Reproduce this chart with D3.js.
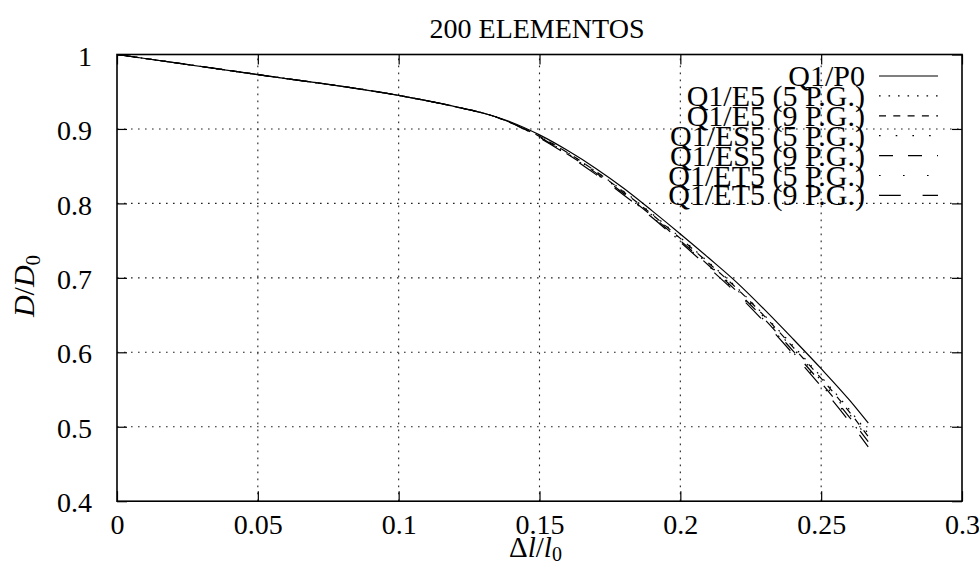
<!DOCTYPE html>
<html>
<head>
<meta charset="utf-8">
<script src="https://cdn.jsdelivr.net/npm/d3@7/dist/d3.min.js"></script>
<style>
  body { margin: 0; background: #fff; }
  text { font-family: "Liberation Serif", "Times New Roman", serif; fill: #000; }
</style>
</head>
<body>
<svg width="979" height="565"></svg>
<script>
const TITLE = "200 ELEMENTOS"

// strain values shared by all curves
const strain = [0, 0.05, 0.1, 0.12, 0.133, 0.14, 0.15, 0.16, 0.17, 0.18, 0.19, 0.2, 0.21, 0.22, 0.23, 0.24, 0.25, 0.26, 0.2667]

const q1P0    = [1.000, 0.973, 0.945, 0.930, 0.918, 0.909, 0.892, 0.871, 0.847, 0.820, 0.790, 0.759, 0.727, 0.694, 0.657, 0.618, 0.578, 0.536, 0.505]
const q1E5_5  = [1.000, 0.973, 0.945, 0.930, 0.918, 0.908, 0.890, 0.868, 0.843, 0.816, 0.786, 0.754, 0.721, 0.687, 0.649, 0.609, 0.567, 0.523, 0.491]
const q1E5_9  = [1.000, 0.973, 0.945, 0.930, 0.918, 0.908, 0.890, 0.868, 0.843, 0.815, 0.785, 0.753, 0.720, 0.686, 0.648, 0.607, 0.565, 0.520, 0.487]
const q1ES5_5 = [1.000, 0.973, 0.945, 0.930, 0.918, 0.908, 0.889, 0.867, 0.842, 0.814, 0.784, 0.752, 0.718, 0.684, 0.646, 0.605, 0.562, 0.517, 0.484]
const q1ES5_9 = [1.000, 0.973, 0.945, 0.930, 0.918, 0.908, 0.889, 0.866, 0.841, 0.813, 0.783, 0.750, 0.717, 0.682, 0.644, 0.602, 0.559, 0.513, 0.480]
const q1ET5_5 = [1.000, 0.973, 0.945, 0.930, 0.918, 0.908, 0.888, 0.866, 0.840, 0.812, 0.782, 0.749, 0.716, 0.681, 0.642, 0.600, 0.557, 0.511, 0.477]
const q1ET5_9 = [1.000, 0.973, 0.945, 0.930, 0.918, 0.908, 0.888, 0.865, 0.839, 0.811, 0.781, 0.748, 0.714, 0.679, 0.640, 0.598, 0.554, 0.507, 0.473]

const seriesNames = ["Q1/P0", "Q1/E5 (5 P.G.)", "Q1/E5 (9 P.G.)", "Q1/ES5 (5 P.G.)", "Q1/ES5 (9 P.G.)", "Q1/ET5 (5 P.G.)", "Q1/ET5 (9 P.G.)"]
const seriesValues = [q1P0, q1E5_5, q1E5_9, q1ES5_5, q1ES5_9, q1ET5_5, q1ET5_9]

const xTicks = [0, 0.05, 0.1, 0.15, 0.2, 0.25, 0.3]
const xTickLabels = ["0", "0.05", "0.1", "0.15", "0.2", "0.25", "0.3"]
const yTicks = [0.4, 0.5, 0.6, 0.7, 0.8, 0.9, 1]
const yTickLabels = ["0.4", "0.5", "0.6", "0.7", "0.8", "0.9", "1"]

// line styles, one per series
const dashStyles = [null, "1.6,7.9", "7,7.3", "1.6,15.1", "14,15", "1.6,22.4", "21.8,21.8"]

const [LEFT, RIGHT, TOP, BOTTOM] = [117, 962, 54.5, 501.2]
const TICK_LEN = 10

const svg = d3.select("svg")

const x = d3.scaleLinear().domain([0, 0.3]).range([LEFT, RIGHT])
const y = d3.scaleLinear().domain([0.4, 1]).range([BOTTOM, TOP])

// grid
const grid = svg.append("g")
  .attr("stroke", "#222")
  .attr("stroke-width", 1.1)
  .attr("stroke-dasharray", "1.6,5.4")
grid.selectAll("line.vgrid")
  .data(xTicks.slice(1, -1))
  .enter()
  .append("line")
  .attr("x1", (d) => x(d)).attr("x2", (d) => x(d))
  .attr("y1", BOTTOM).attr("y2", TOP)
grid.selectAll("line.hgrid")
  .data(yTicks.slice(1, -1))
  .enter()
  .append("line")
  .attr("x1", LEFT).attr("x2", RIGHT)
  .attr("y1", (d) => y(d)).attr("y2", (d) => y(d))

// axes with inward ticks, mirrored on all four sides
const tickFmtX = (d, i) => xTickLabels[i]
const tickFmtY = (d, i) => yTickLabels[i]

const bottomAxis = svg.append("g")
  .attr("transform", `translate(0,${BOTTOM})`)
  .call(d3.axisBottom(x).tickValues(xTicks).tickFormat(tickFmtX).tickSizeInner(-TICK_LEN).tickSizeOuter(0).tickPadding(13))
const leftAxis = svg.append("g")
  .attr("transform", `translate(${LEFT},0)`)
  .call(d3.axisLeft(y).tickValues(yTicks).tickFormat(tickFmtY).tickSizeInner(-TICK_LEN).tickSizeOuter(0).tickPadding(25))
svg.append("g")
  .attr("transform", `translate(0,${TOP})`)
  .call(d3.axisTop(x).tickValues(xTicks).tickFormat("").tickSizeInner(-TICK_LEN).tickSizeOuter(0))
svg.append("g")
  .attr("transform", `translate(${RIGHT},0)`)
  .call(d3.axisRight(y).tickValues(yTicks).tickFormat("").tickSizeInner(-TICK_LEN).tickSizeOuter(0))

svg.selectAll(".domain").remove()
svg.selectAll(".tick line").attr("stroke", "#000").attr("stroke-width", 1.2)
bottomAxis.selectAll("text")
  .attr("font-family", "Liberation Serif")
  .attr("font-size", 28)
leftAxis.selectAll("text")
  .attr("font-family", "Liberation Serif")
  .attr("font-size", 28)
  .attr("dy", "0.38em")

// frame
svg.append("rect")
  .attr("x", LEFT).attr("y", TOP)
  .attr("width", RIGHT - LEFT).attr("height", BOTTOM - TOP)
  .attr("fill", "none")
  .attr("stroke", "#000")
  .attr("stroke-width", 1.6)

// curves
const line = d3.line()
  .x((d) => x(d[0]))
  .y((d) => y(d[1]))
  .curve(d3.curveMonotoneX)

svg.selectAll("path.curve")
  .data(seriesValues)
  .enter()
  .append("path")
  .classed("curve", true)
  .attr("d", (vals) => line(strain.map((s, i) => [s, vals[i]])))
  .attr("fill", "none")
  .attr("stroke", "#000")
  .attr("stroke-width", 1.2)
  .attr("stroke-dasharray", (d, i) => dashStyles[i])

// legend
const LEGEND_TOP = 76
const LEGEND_STEP = 19.9
const legend = svg.append("g")
seriesNames.forEach((name, i) => {
  const ly = LEGEND_TOP + i * LEGEND_STEP
  legend.append("text")
    .attr("x", 865)
    .attr("y", ly + 10)
    .attr("text-anchor", "end")
    .attr("font-size", 30)
    .text(name)
  legend.append("line")
    .attr("x1", 879).attr("x2", 938)
    .attr("y1", ly).attr("y2", ly)
    .attr("stroke", "#000")
    .attr("stroke-width", 1.2)
    .attr("stroke-dasharray", dashStyles[i])
})

// title
svg.append("text")
  .attr("x", 537)
  .attr("y", 38)
  .attr("text-anchor", "middle")
  .attr("font-size", 28)
  .text(TITLE)

// x label: Δl/l0
const xLabel = svg.append("text")
  .attr("x", (LEFT + RIGHT) / 2 - 4)
  .attr("y", 557)
  .attr("text-anchor", "middle")
  .attr("font-size", 29)
xLabel.append("tspan").text("Δ")
xLabel.append("tspan").attr("font-style", "italic").text("l")
xLabel.append("tspan").text("/")
xLabel.append("tspan").attr("font-style", "italic").text("l")
xLabel.append("tspan").attr("font-size", 20).attr("dy", 4).text("0")

// y label: D/D0
const yLabel = svg.append("text")
  .attr("transform", "translate(34,286) rotate(-90)")
  .attr("text-anchor", "middle")
  .attr("font-size", 30)
yLabel.append("tspan").attr("font-style", "italic").text("D")
yLabel.append("tspan").text("/")
yLabel.append("tspan").attr("font-style", "italic").text("D")
yLabel.append("tspan").attr("font-size", 21).attr("dy", 6).text("0")
</script>
</body>
</html>
